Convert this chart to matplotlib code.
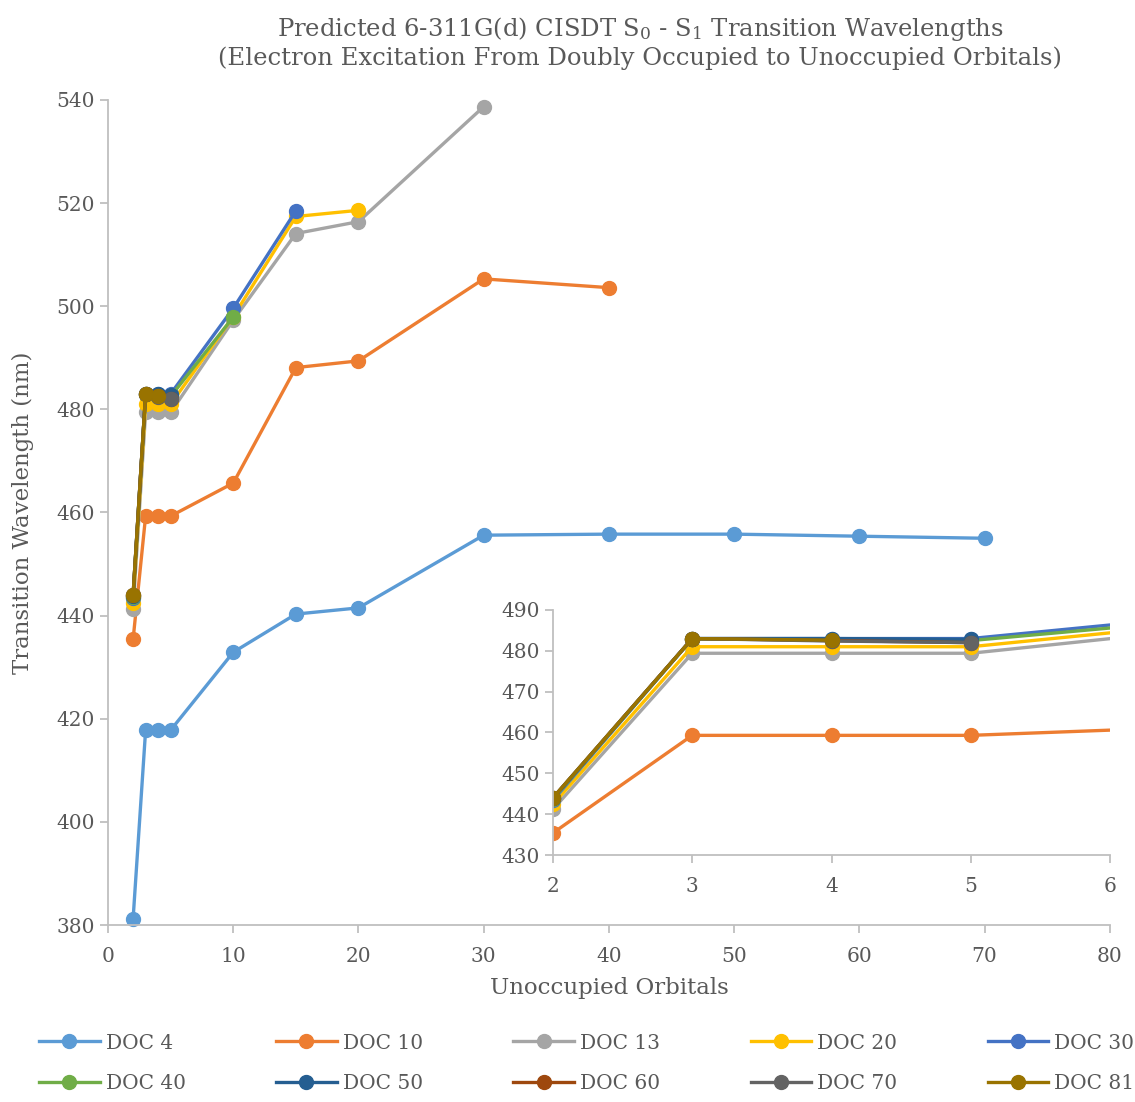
import matplotlib
matplotlib.use("Agg")
import matplotlib.pyplot as plt
from matplotlib.lines import Line2D

plt.rcParams['font.family'] = ['DejaVu Serif']
plt.rcParams['mathtext.fontset'] = 'dejavuserif'

series_names = ["DOC 4", "DOC 10", "DOC 13", "DOC 20", "DOC 30",
                "DOC 40", "DOC 50", "DOC 60", "DOC 70", "DOC 81"]
colors = ["#5B9BD5", "#ED7D31", "#A5A5A5", "#FFC000", "#4472C4",
          "#70AD47", "#255E91", "#9E480E", "#636363", "#997300"]

doc4_x = [2, 3, 4, 5, 10, 15, 20, 30, 40, 50, 60, 70]
doc4_y = [381.2, 417.8, 417.8, 417.8, 432.9, 440.3, 441.5, 455.6, 455.8, 455.8, 455.4, 455.0]
doc10_x = [2, 3, 4, 5, 10, 15, 20, 30, 40]
doc10_y = [435.4, 459.3, 459.3, 459.3, 465.7, 488.1, 489.4, 505.3, 503.6]
doc13_x = [2, 3, 4, 5, 10, 15, 20, 30]
doc13_y = [441.2, 479.4, 479.4, 479.4, 497.3, 514.1, 516.4, 538.7]
doc20_x = [2, 3, 4, 5, 10, 15, 20]
doc20_y = [442.4, 481.0, 481.0, 481.0, 498.0, 517.4, 518.6]
doc30_x = [2, 3, 4, 5, 10, 15]
doc30_y = [443.4, 483.0, 483.0, 483.0, 499.6, 518.5]
doc40_x = [2, 3, 4, 5, 10]
doc40_y = [443.7, 482.9, 482.7, 482.5, 497.9]
doc50_x = [2, 3, 4, 5]
doc50_y = [443.9, 483.0, 483.0, 482.8]
doc60_x = [2, 3, 4, 5]
doc60_y = [444.0, 483.0, 482.5, 482.0]
doc70_x = [2, 3, 4, 5]
doc70_y = [444.0, 483.0, 482.4, 482.0]
doc81_x = [2, 3, 4]
doc81_y = [444.0, 483.0, 482.6]

xs = [doc4_x, doc10_x, doc13_x, doc20_x, doc30_x, doc40_x, doc50_x, doc60_x, doc70_x, doc81_x]
ys = [doc4_y, doc10_y, doc13_y, doc20_y, doc30_y, doc40_y, doc50_y, doc60_y, doc70_y, doc81_y]

main_xticks = [0, 10, 20, 30, 40, 50, 60, 70, 80]
main_yticks = [380, 400, 420, 440, 460, 480, 500, 520, 540]
inset_xticks = [2, 3, 4, 5, 6]
inset_yticks = [430, 440, 450, 460, 470, 480, 490]

txt = "#595959"
spine = "#BFBFBF"

fig = plt.figure(figsize=(11.35, 11.02), dpi=100)
ax = fig.add_axes([0.0952, 0.1606, 0.8826, 0.7487])

def style(a, fs):
    for s in ["top", "right"]:
        a.spines[s].set_visible(False)
    for s in ["left", "bottom"]:
        a.spines[s].set_color(spine)
        a.spines[s].set_linewidth(1.3)
    a.tick_params(colors=spine, labelcolor=txt, labelsize=fs, length=6, width=1.3)

for x, y, c in zip(xs, ys, colors):
    ax.plot(x, y, color=c, lw=2.4, marker='o', ms=10, clip_on=False)
ax.set_xlim(0, 80)
ax.set_ylim(380, 540)
ax.set_xticks(main_xticks)
ax.set_yticks(main_yticks)
style(ax, 14.5)
ax.tick_params(axis='x', pad=10)
ax.set_xlabel("Unoccupied Orbitals", fontsize=16.5, color=txt, labelpad=8)
ax.set_ylabel("Transition Wavelength (nm)", fontsize=16.5, color=txt, labelpad=16)

fig.text(0.564, 0.974, "Predicted 6-311G(d) CISDT S$_0$ - S$_1$ Transition Wavelengths",
         ha='center', va='center', fontsize=17.5, color=txt)
fig.text(0.564, 0.947, "(Electron Excitation From Doubly Occupied to Unoccupied Orbitals)",
         ha='center', va='center', fontsize=17.5, color=txt)

ins = fig.add_axes([0.4872, 0.2241, 0.4908, 0.2224])
for x, y, c in zip(xs, ys, colors):
    ins.plot(x, y, color=c, lw=2.4, marker='o', ms=10)
ins.set_xlim(2, 6)
ins.set_ylim(430, 490)
ins.set_xticks(inset_xticks)
ins.set_yticks(inset_yticks)
style(ins, 14.5)
ins.tick_params(axis='x', pad=10)
ins.patch.set_alpha(0)

handles = [Line2D([0], [0], color=c, lw=2.4, marker='o', ms=10) for c in colors]
order = [0, 5, 1, 6, 2, 7, 3, 8, 4, 9]
fig.legend([handles[i] for i in order], [series_names[i] for i in order],
           loc='lower center', bbox_to_anchor=(0.517, -0.008),
           ncol=5, frameon=False, fontsize=14.5, labelcolor=txt,
           handlelength=3.0, columnspacing=4.5, handletextpad=0.3, labelspacing=1.05)

fig.savefig("out.png", dpi=100)
